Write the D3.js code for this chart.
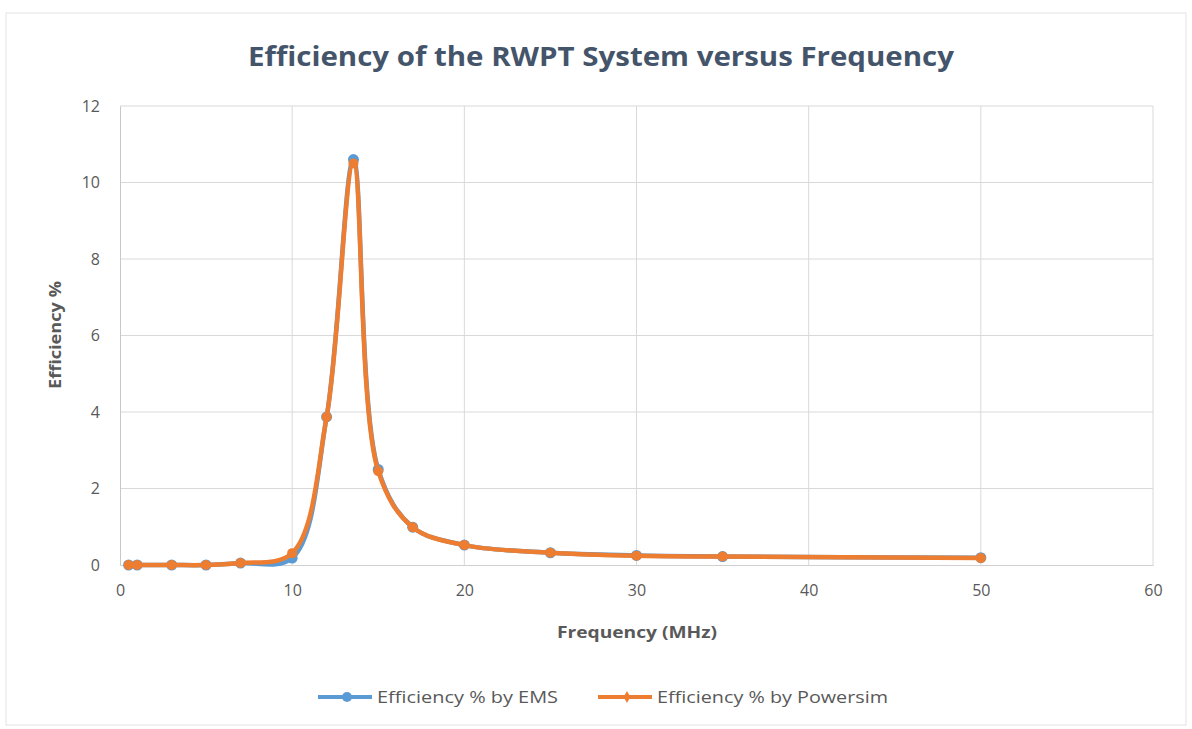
<!DOCTYPE html>
<html lang="en">
<head><meta charset="utf-8">
<title>Efficiency of the RWPT System versus Frequency</title>
<style>
body { margin: 0; background: #ffffff; font-family: "Open Sans", sans-serif; }
.grid line { stroke: #d9d9d9; stroke-width: 1px; }
.tick text { fill: #595959; font-size: 16px; }
</style>
</head>
<body>
<svg></svg>
<script src="https://d3js.org/d3.v7.min.js"></script>
<script>

// frequency points (MHz)
var freq = [0.5, 1, 3, 5, 7, 10, 12, 13.56, 15, 17, 20, 25, 30, 35, 50];
// efficiency % by EMS
var ems = [0.0, 0.0, 0.0, 0.0, 0.05, 0.18, 3.87, 10.6, 2.5, 0.99, 0.52, 0.32, 0.25, 0.22, 0.19];
// efficiency % by Powersim
var powersim = [0.0, 0.0, 0.0, 0.0, 0.05, 0.31, 3.87, 10.5, 2.45, 0.99, 0.52, 0.32, 0.24, 0.22, 0.18];

var xTicks = [0, 10, 20, 30, 40, 50, 60];
var yTicks = [0, 2, 4, 6, 8, 10, 12];

var seriesNames = ["Efficiency % by EMS", "Efficiency % by Powersim"];
var seriesColors = ["#5b9bd5", "#ed7d31"];

var width = 1192, height = 729;
var margin = {left: 120, right: 39, top: 106, bottom: 164};

var svg = d3.select("svg")
    .attr("width", width)
    .attr("height", height);

// chart frame
svg.append("rect")
    .attr("x", 6).attr("y", 13)
    .attr("width", 1180).attr("height", 712)
    .attr("fill", "#fff")
    .attr("stroke", "#e3e3e3");

var x = d3.scaleLinear().domain([0, 60]).range([margin.left, width - margin.right]);
var y = d3.scaleLinear().domain([0, 12]).range([height - margin.bottom, margin.top]);

// grid
svg.append("g").attr("class", "grid")
  .selectAll("line.h").data(yTicks.slice(1)).enter().append("line")
    .attr("x1", x(0)).attr("x2", x(60))
    .attr("y1", function(d) { return y(d); })
    .attr("y2", function(d) { return y(d); });

svg.append("g").attr("class", "grid")
  .selectAll("line.v").data(xTicks.slice(1)).enter().append("line")
    .attr("y1", y(0)).attr("y2", y(12))
    .attr("x1", function(d) { return x(d); })
    .attr("x2", function(d) { return x(d); });

// axes
var xAxis = svg.append("g")
    .attr("transform", "translate(0," + y(0) + ")")
    .call(d3.axisBottom(x).tickValues(xTicks).tickSize(0).tickPadding(20));
xAxis.select(".domain").attr("stroke", "#d0d0d0");

var yAxis = svg.append("g")
    .attr("transform", "translate(" + x(0) + ",0)")
    .call(d3.axisLeft(y).tickValues(yTicks).tickSize(0).tickPadding(20));
yAxis.select(".domain").attr("stroke", "#c8c8c8");
svg.selectAll(".tick text").attr("font-family", "Open Sans").attr("font-size", 17);

// title
svg.append("text")
    .attr("x", 601).attr("y", 66)
    .attr("text-anchor", "middle")
    .attr("font-size", 26)
    .attr("font-weight", "bold")
    .attr("fill", "#44546a")
    .attr("textLength", 706)
    .attr("lengthAdjust", "spacingAndGlyphs")
    .text("Efficiency of the RWPT System versus Frequency");

// axis titles
svg.append("text")
    .attr("x", 637).attr("y", 638)
    .attr("text-anchor", "middle")
    .attr("font-size", 16)
    .attr("font-weight", "bold")
    .attr("fill", "#595959")
    .attr("textLength", 160)
    .attr("lengthAdjust", "spacingAndGlyphs")
    .text("Frequency (MHz)");

svg.append("text")
    .attr("transform", "translate(61,335) rotate(-90)")
    .attr("text-anchor", "middle")
    .attr("font-size", 16)
    .attr("font-weight", "bold")
    .attr("fill", "#595959")
    .attr("textLength", 108)
    .attr("lengthAdjust", "spacingAndGlyphs")
    .text("Efficiency %");

// series
var line = d3.line()
    .x(function(d) { return x(d[0]); })
    .y(function(d) { return y(d[1]); })
    .curve(d3.curveCatmullRom.alpha(0.5));

[ems, powersim].forEach(function(vals, i) {
  var pts = freq.map(function(f, j) { return [f, vals[j]]; });
  svg.append("path")
      .datum(pts)
      .attr("d", line)
      .attr("fill", "none")
      .attr("stroke", seriesColors[i])
      .attr("stroke-width", 4.5)
      .attr("stroke-linejoin", "round");
  svg.append("g").selectAll("circle").data(pts).enter().append("circle")
      .attr("cx", function(d) { return x(d[0]); })
      .attr("cy", function(d) { return y(d[1]); })
      .attr("r", i === 0 ? 5.5 : 5)
      .attr("fill", seriesColors[i]);
});

// legend
var legendX = [318, 598];
var legendTextW = [181, 231];
seriesNames.forEach(function(name, i) {
  var g = svg.append("g").attr("transform", "translate(" + legendX[i] + ",697)");
  g.append("line").attr("x1", 0).attr("x2", 54)
      .attr("stroke", seriesColors[i]).attr("stroke-width", 4);
  if (i === 0) {
    g.append("circle").attr("cx", 29).attr("r", 5).attr("fill", seriesColors[i]);
  } else {
    g.append("path").attr("transform", "translate(29,0)")
        .attr("d", d3.symbol(d3.symbolDiamond, 40))
        .attr("fill", seriesColors[i]);
  }
  g.append("text").attr("x", 59).attr("y", 6)
      .attr("font-size", 17)
      .attr("fill", "#595959")
      .attr("textLength", legendTextW[i])
      .attr("lengthAdjust", "spacingAndGlyphs")
      .text(name);
});

</script>
</body>
</html>
